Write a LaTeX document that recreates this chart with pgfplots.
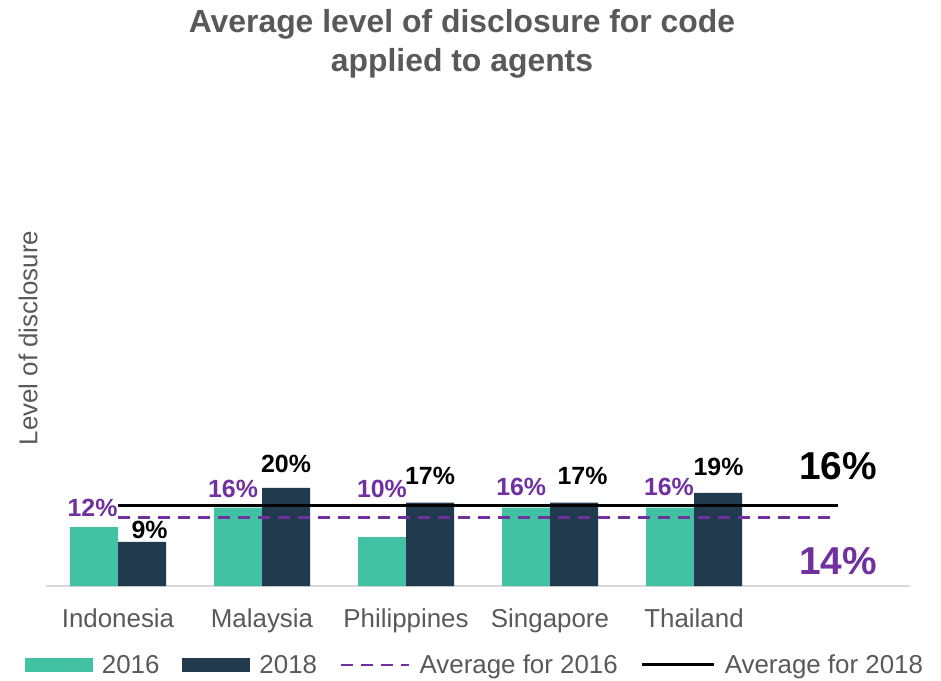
\documentclass[border=0pt]{standalone}
\usepackage{fontspec}
\setmainfont{Liberation Sans}
\usepackage{pgfplots}
\pgfplotsset{compat=1.18}
\definecolor{teal16}{HTML}{43C1A3}
\definecolor{navy18}{HTML}{223A4E}
\definecolor{purp}{HTML}{7030A0}
\definecolor{txtgray}{HTML}{595959}
\definecolor{axgray}{HTML}{D9D9D9}
\begin{document}
\begin{tikzpicture}
\path[use as bounding box] (-46bp,-95bp) rectangle (895bp,586bp);
\begin{axis}[
  scale only axis, width=864bp, height=490bp,
  xmin=-0.5, xmax=5.5, ymin=0, ymax=100,
  axis x line*=bottom, axis y line*=left,
  x axis line style={draw=axgray, line width=1.5bp},
  y axis line style={draw=none},
  ytick=\empty,
  xtick={0,1,2,3,4},
  xticklabels={Indonesia,Malaysia,Philippines,Singapore,Thailand},
  major tick length=0pt,
  xticklabel style={font=\fontsize{26}{30}\selectfont, text=txtgray, anchor=base, yshift=-41bp},
  ylabel={Level of disclosure},
  ylabel style={font=\fontsize{26}{30}\selectfont, text=txtgray, at={(axis description cs:-0.0208,0.506)}, anchor=center},
  legend columns=4,
  legend style={at={(rel axis cs:0.4965,-0.161)}, anchor=center, draw=none, fill=none,
    font=\fontsize{26}{30}\selectfont, text=txtgray,
    /tikz/every odd column/.append style={column sep=7bp},
    /tikz/every even column/.append style={column sep=21bp}},
]
\addplot[ybar, bar width=48bp, bar shift=-24bp, fill=teal16, draw=none,
  legend image code/.code={\fill[teal16] (0bp,-7bp) rectangle (68bp,7bp);}]
  coordinates {(0,12) (1,16) (2,10) (3,16) (4,16)};
\addlegendentry{2016}
\addplot[ybar, bar width=48bp, bar shift=24bp, fill=navy18, draw=none,
  legend image code/.code={\fill[navy18] (0bp,-7bp) rectangle (68bp,7bp);}]
  coordinates {(0,9) (1,20) (2,17) (3,17) (4,19)};
\addlegendentry{2018}
\addplot[purp, line width=2.5bp, dash pattern=on 12bp off 8bp,
  legend image code/.code={\draw[purp, line width=2.5bp, dash pattern=on 12bp off 8bp] (0bp,0bp) -- (68bp,0bp);}]
  coordinates {(0,14) (5,14)};
\addlegendentry{Average for 2016}
\addplot[black, line width=3bp,
  legend image code/.code={\draw[black, line width=3bp] (0bp,0bp) -- (72bp,0bp);}]
  coordinates {(0,16.4) (5,16.4)};
\addlegendentry{Average for 2018}

% 2016 labels
\node[text=purp, font=\bfseries\fontsize{25}{29}\selectfont] at (axis cs:-0.177,15.9) {12\%};
\node[text=purp, font=\bfseries\fontsize{25}{29}\selectfont] at (axis cs:0.799,19.8) {16\%};
\node[text=purp, font=\bfseries\fontsize{25}{29}\selectfont] at (axis cs:1.833,19.8) {10\%};
\node[text=purp, font=\bfseries\fontsize{25}{29}\selectfont] at (axis cs:2.80,20.3) {16\%};
\node[text=purp, font=\bfseries\fontsize{25}{29}\selectfont] at (axis cs:3.826,20.3) {16\%};
% 2018 labels
\node[text=black, font=\bfseries\fontsize{25}{29}\selectfont] at (axis cs:0.219,11.5) {9\%};
\node[text=black, font=\bfseries\fontsize{25}{29}\selectfont] at (axis cs:1.167,24.9) {20\%};
\node[text=black, font=\bfseries\fontsize{25}{29}\selectfont] at (axis cs:2.167,22.4) {17\%};
\node[text=black, font=\bfseries\fontsize{25}{29}\selectfont] at (axis cs:3.226,22.4) {17\%};
\node[text=black, font=\bfseries\fontsize{25}{29}\selectfont] at (axis cs:4.17,24.4) {19\%};
% averages
\node[text=black, font=\bfseries\fontsize{39}{44}\selectfont] at (axis cs:5.0,24.4) {16\%};
\node[text=purp, font=\bfseries\fontsize{39}{44}\selectfont] at (axis cs:5.0,5.1) {14\%};
\end{axis}
\node[font=\bfseries\fontsize{32}{38.5}\selectfont, text=txtgray, align=center] at (416bp,542bp)
  {Average level of disclosure for code\\applied to agents};
\end{tikzpicture}
\end{document}
